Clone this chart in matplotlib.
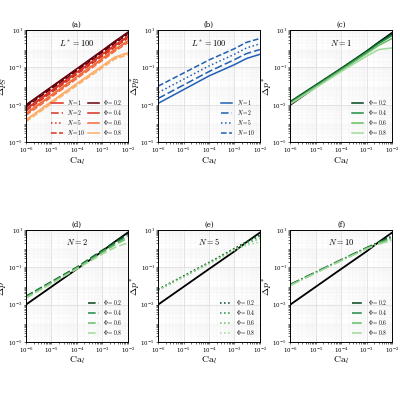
import numpy as np
import matplotlib.pyplot as plt

plt.rcParams['mathtext.fontset'] = 'cm'
plt.rcParams['font.family'] = 'serif'
plt.rcParams['font.serif'] = ['DejaVu Serif']

# sample capillary numbers and read-off curve values
ca = [1e-6, 1e-4, 1e-3, 3e-3, 1e-2]
phis = [0.2, 0.4, 0.6, 0.8]
ns = [1, 2, 5, 10]
ref = [1e-3, 0.08, 0.7, 2.2, 7]

# panel (a): per phi, N curves nearly overlap (factor per N)
a_phi = {
    0.2: [1.0e-3, 0.085, 0.8, 2.4, 7.5],
    0.4: [6e-4, 0.055, 0.5, 1.5, 4.5],
    0.6: [3.5e-4, 0.032, 0.3, 0.9, 2.6],
    0.8: [1.6e-4, 0.014, 0.12, 0.35, 0.6],
}
a_nfac = [1.0, 0.93, 0.85, 0.78]

# panel (b)
b_vals = {
    1: [1.2e-3, 3.5e-2, 0.14, 0.3, 0.5],
    2: [2.2e-3, 6e-2, 0.26, 0.55, 0.9],
    5: [4.5e-3, 0.12, 0.5, 1.1, 1.8],
    10: [1.0e-2, 0.25, 1.0, 2.2, 3.5],
}

# panels (c)-(f): Delta p* per phi
cf_vals = {
    1: {0.2: [1.5e-3, 0.09, 0.75, 2.2, 6.2],
        0.4: [1.35e-3, 0.08, 0.65, 1.9, 5.0],
        0.6: [1.2e-3, 0.07, 0.55, 1.5, 3.5],
        0.8: [1.1e-3, 0.06, 0.4, 0.9, 1.1]},
    2: {0.2: [2.8e-3, 0.1, 0.8, 2.1, 6.0],
        0.4: [2.6e-3, 0.095, 0.7, 1.8, 4.8],
        0.6: [2.4e-3, 0.088, 0.6, 1.5, 3.6],
        0.8: [2.2e-3, 0.08, 0.5, 1.1, 2.0]},
    5: {0.2: [6.5e-3, 0.18, 1.0, 2.3, 5.5],
        0.4: [6.2e-3, 0.17, 0.95, 2.1, 4.5],
        0.6: [6.0e-3, 0.16, 0.88, 1.8, 3.4],
        0.8: [5.8e-3, 0.15, 0.8, 1.5, 2.2]},
    10: {0.2: [1.2e-2, 0.25, 1.1, 2.2, 4.5],
         0.4: [1.15e-2, 0.24, 1.05, 2.1, 4.0],
         0.6: [1.1e-2, 0.23, 1.0, 1.9, 3.4],
         0.8: [1.05e-2, 0.22, 0.95, 1.7, 2.7]},
}

n_styles = {1: '-', 2: (0, (5, 2)), 5: ':', 10: '--'}
reds = ['#67000d', '#d7301f', '#f16a3a', '#fdae6b']
greens = ['#00441b', '#238b45', '#66bd63', '#a1d99b']
blues = '#1f5fb4'

fig, axes = plt.subplots(2, 3, figsize=(4, 4), dpi=100)
plt.subplots_adjust(left=0.065, right=0.98, top=0.925, bottom=0.145,
                    wspace=0.3, hspace=0.78)
xs = np.logspace(-6, -2, 60)


def curve(vals):
    return 10 ** np.interp(np.log10(xs), np.log10(ca), np.log10(vals))


def setup(ax, label, ylab, title):
    ax.set_xscale('log'); ax.set_yscale('log')
    ax.set_xlim(1e-6, 1e-2); ax.set_ylim(1e-5, 10)
    ax.set_xticks([1e-6, 1e-5, 1e-4, 1e-3, 1e-2])
    ax.set_yticks([1e-5, 1e-3, 1e-1, 1e1])
    ax.grid(True, which='major', color='#cccccc', lw=0.4)
    ax.grid(True, which='minor', color='#eeeeee', lw=0.3)
    ax.tick_params(labelsize=4, length=1.5, width=0.4, which='both', pad=1)
    ax.set_title(label, fontsize=5, pad=2)
    ax.set_xlabel(r'$\mathrm{Ca}_l$', fontsize=7, labelpad=0)
    ax.set_ylabel(ylab, fontsize=7, labelpad=-1)
    ax.text(0.5, 0.86, title, transform=ax.transAxes, ha='center', fontsize=6)
    for s in ax.spines.values():
        s.set_linewidth(0.7)


# (a)
ax = axes[0, 0]
setup(ax, '(a)', r'$\Delta p_S^*$', r'$L^*=100$')
for i, p in enumerate(phis):
    for j, n in enumerate(ns):
        ax.plot(xs, curve(np.array(a_phi[p]) * a_nfac[j]), color=reds[i],
                ls=n_styles[n], lw=1.1)
h1 = [ax.plot([], [], color='#d7301f', ls=n_styles[n], lw=1.1)[0] for n in ns]
h2 = [ax.plot([], [], color=c, lw=1.1)[0] for c in reds]
ax.legend(h1 + h2, [f'$N={n}$' for n in ns] + [rf'$\Phi={p}$' for p in phis],
          ncol=2, fontsize=4, loc='lower right', frameon=False,
          handlelength=2, labelspacing=0.2, columnspacing=0.5)

# (b)
ax = axes[0, 1]
setup(ax, '(b)', r'$\Delta p_B^*$', r'$L^*=100$')
for n in ns:
    ax.plot(xs, curve(b_vals[n]), color=blues, ls=n_styles[n], lw=1.1,
            label=f'$N={n}$')
ax.legend(fontsize=4, loc='lower right', frameon=False, handlelength=2,
          labelspacing=0.2)

# (c)-(f)
for ax, n, lab in zip([axes[0, 2], axes[1, 0], axes[1, 1], axes[1, 2]],
                      ns, ['(c)', '(d)', '(e)', '(f)']):
    setup(ax, lab, r'$\Delta p^*$', f'$N={n}$')
    ax.plot(xs, curve(ref), color='black', lw=1.3)
    ls = {1: '-', 2: (0, (5, 2)), 5: ':', 10: '-.'}[n]
    for i, p in enumerate(phis):
        ax.plot(xs, curve(cf_vals[n][p]), color=greens[i], ls=ls, lw=1.1,
                label=rf'$\Phi={p}$')
    ax.legend(fontsize=4, loc='lower right', frameon=False, handlelength=2,
              labelspacing=0.2)

fig.savefig('out.png')
